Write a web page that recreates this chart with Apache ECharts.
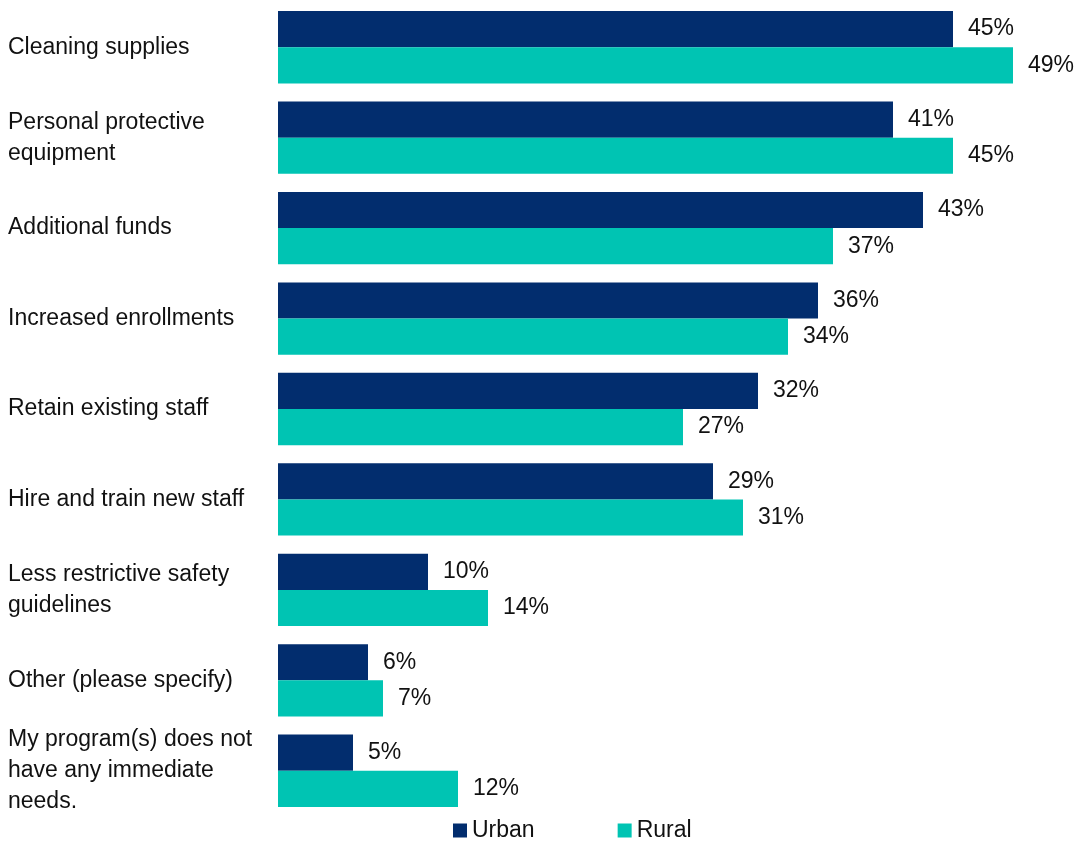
<!DOCTYPE html>
<html>
<head>
<meta charset="utf-8">
<script src="https://cdn.jsdelivr.net/npm/echarts@6/dist/echarts.min.js"></script>
<style>
  html, body { margin: 0; padding: 0; background: #ffffff; }
  #chart { width: 1076px; height: 842px; }
</style>
</head>
<body>
<div id="chart"></div>
<script>
// Immediate needs by program location (percent of respondents)
const categories = [
  'Cleaning supplies',
  'Personal protective\nequipment',
  'Additional funds',
  'Increased enrollments',
  'Retain existing staff',
  'Hire and train new staff',
  'Less restrictive safety\nguidelines',
  'Other (please specify)',
  'My program(s) does not\nhave any immediate\nneeds.'
];
const urban = [45, 41, 43, 36, 32, 29, 10, 6, 5];
const rural = [49, 45, 37, 34, 27, 31, 14, 7, 12];
const seriesNames = ['Urban', 'Rural'];

const FONT = '"Liberation Sans", Arial, sans-serif';
const FONT_SIZE = 23;
const NAVY = '#022d6e';
const TEAL = '#00c4b3';

const valueLabel = {
  show: true,
  position: 'right',
  distance: 15,
  padding: [4, 0, 0, 0],
  formatter: p => p.value + '%',
  fontFamily: FONT,
  fontSize: FONT_SIZE,
  color: '#111111'
};

const chart = echarts.init(document.getElementById('chart'), null, { renderer: 'canvas' });
chart.setOption({
  animation: false,
  textStyle: { fontFamily: FONT },
  grid: { left: 278, right: 48, top: 2, bottom: 26, containLabel: false },
  legend: {
    data: seriesNames,
    left: 453,
    top: 819,
    padding: 0,
    itemWidth: 14,
    itemHeight: 14,
    itemGap: 83,
    icon: 'rect',
    textStyle: { fontFamily: FONT, fontSize: FONT_SIZE, color: '#111111' }
  },
  xAxis: {
    type: 'value',
    min: 0,
    max: 50,
    show: false,
    splitLine: { show: false }
  },
  yAxis: {
    type: 'category',
    data: categories,
    inverse: true,
    axisLine: { show: false },
    axisTick: { show: false },
    axisLabel: {
      align: 'left',
      margin: 270,
      padding: [4, 0, 0, 0],
      fontFamily: FONT,
      fontSize: FONT_SIZE,
      lineHeight: 31,
      color: '#111111'
    }
  },
  series: [
    {
      name: seriesNames[0],
      type: 'bar',
      data: urban,
      barGap: '0%',
      barCategoryGap: '20%',
      itemStyle: { color: NAVY },
      label: valueLabel
    },
    {
      name: seriesNames[1],
      type: 'bar',
      data: rural,
      barGap: '0%',
      barCategoryGap: '20%',
      itemStyle: { color: TEAL },
      label: valueLabel
    }
  ]
});
</script>
</body>
</html>
